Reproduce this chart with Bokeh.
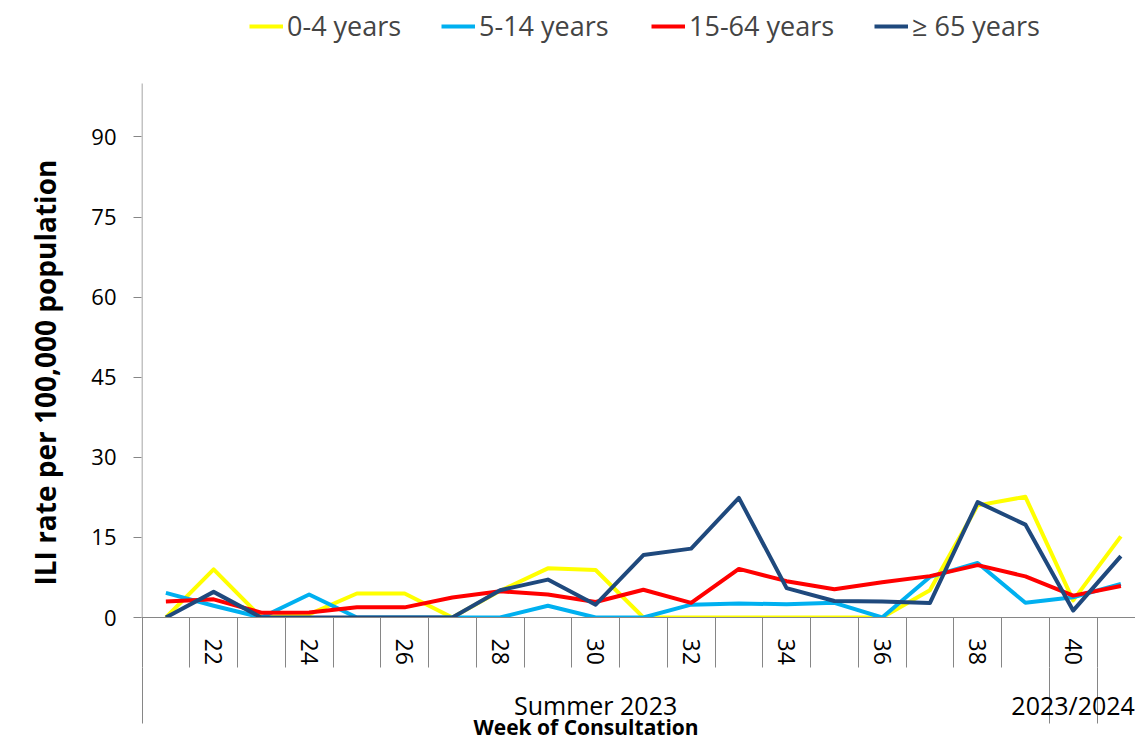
from bokeh.plotting import figure
from bokeh.models import Range1d, FixedTicker, LinearAxis, Legend, LegendItem, ColumnDataSource, Title
from bokeh.embed import file_html
from bokeh.resources import INLINE

# ---- data ----
weeks = list(range(21, 42))
age_0_4 = [0, 9.0, 0, 0.6, 4.5, 4.5, 0, 5.0, 9.2, 8.9, 0, 0, 0, 0, 0, 0, 5.1, 21.0, 22.6, 3.2, 15.2]
age_5_14 = [4.6, 2.2, 0, 4.3, 0, 0, 0, 0, 2.2, 0, 0, 2.4, 2.6, 2.5, 2.75, 0, 7.6, 10.2, 2.75, 3.8, 6.3]
age_15_64 = [3.0, 3.4, 0.9, 0.94, 1.9, 1.9, 3.75, 4.9, 4.3, 2.9, 5.2, 2.75, 9.1, 6.8, 5.3, 6.6, 7.75, 9.8, 7.7, 4.1, 5.9]
age_65 = [0, 4.8, 0, 0, 0, 0, 0, 5.1, 7.1, 2.4, 11.7, 12.9, 22.4, 5.5, 3.1, 3.0, 2.7, 21.6, 17.4, 1.3, 11.5]

series_labels = ["0-4 years", "5-14 years", "15-64 years", "\u2265 65 years"]
series_colors = ["#FFFF00", "#00B0F0", "#FF0000", "#1F497D"]

y_ticks = [0, 15, 30, 45, 60, 75, 90]
y_max = 100
y_title = "ILI rate per 100,000 population"
x_title = "Week of Consultation"
week_ticks = [22, 24, 26, 28, 30, 32, 34, 36, 38, 40]
group_labels = ["Summer 2023", "2023/2024"]
group_tick_pos = [30, 40]
group_bounds = [20.5, 39.5, 40.5]

GRAY = "#868686"
FONT = "Open Sans"

# layout geometry (pixels)
FRAME_LEFT, PX_PER_WEEK, X0 = 141, 47.75, 20.4895
ZERO_Y, PX_PER_UNIT = 617, 5.34

source = ColumnDataSource(dict(week=weeks, a=age_0_4, b=age_5_14, c=age_15_64, d=age_65))

p = figure(width=1135, height=742, output_backend="svg", toolbar_location=None,
           x_range=Range1d(X0, X0 + (1135 - FRAME_LEFT) / PX_PER_WEEK),
           y_range=Range1d(0, ZERO_Y / PX_PER_UNIT),
           min_border_left=FRAME_LEFT, min_border_right=0, min_border_top=0,
           min_border_bottom=742 - ZERO_Y)
p.outline_line_color = None
p.grid.visible = False
p.background_fill_color = "white"
p.border_fill_color = "white"

# y axis
ya = p.yaxis[0]
ya.ticker = FixedTicker(ticks=y_ticks)
ya.axis_line_color = None
ya.major_tick_line_color = GRAY
ya.major_tick_out = 8
ya.major_tick_in = 0
ya.minor_tick_line_color = None
ya.major_label_text_font = FONT
ya.major_label_text_font_size = "22px"
ya.major_label_text_color = "black"
ya.major_label_standoff = 17

# y title
p.add_layout(Title(text=y_title, align="left", offset=32, standoff=46, vertical_align="top",
                   text_font=FONT, text_font_size="28px", text_font_style="bold",
                   text_color="black"), "left")

# vertical axis line up to 100
p.segment(x0=[group_bounds[0]], y0=[0], x1=[group_bounds[0]], y1=[y_max], line_color=GRAY, line_width=1)

# x axis level 1 (weeks)
xa = p.xaxis[0]
xa.ticker = FixedTicker(ticks=week_ticks, minor_ticks=[w - 0.5 for w in weeks])
xa.axis_line_color = GRAY
xa.major_tick_line_color = None
xa.major_tick_out = 0
xa.major_tick_in = 0
xa.minor_tick_line_color = GRAY
xa.minor_tick_out = 50
xa.minor_tick_in = 0
xa.major_label_orientation = "vertical"
xa.major_label_text_font = FONT
xa.major_label_text_font_size = "23px"
xa.major_label_text_color = "black"
xa.major_label_standoff = -29

# x axis level 2 (season groups)
xa2 = LinearAxis(ticker=FixedTicker(ticks=group_tick_pos, minor_ticks=group_bounds),
                 major_label_overrides={group_tick_pos[0]: group_labels[0], group_tick_pos[1]: group_labels[1]})
xa2.axis_line_color = None
xa2.major_tick_line_color = None
xa2.major_tick_out = 0
xa2.major_tick_in = 0
xa2.minor_tick_line_color = GRAY
xa2.minor_tick_out = 56
xa2.minor_tick_in = 0
xa2.major_label_text_font = FONT
xa2.major_label_text_font_size = "25px"
xa2.major_label_text_color = "black"
xa2.major_label_standoff = -36
p.add_layout(xa2, "below")

# x title
p.add_layout(Title(text=x_title, align="left", offset=332, standoff=-24, vertical_align="top",
                   text_font=FONT, text_font_size="21px", text_font_style="bold",
                   text_color="black"), "below")

renderers = []
for col, color in zip(["a", "b", "c", "d"], series_colors):
    r = p.line("week", col, source=source, line_color=color, line_width=4, line_join="round")
    renderers.append(r)

legend_x = [108, 300, 510, 733]
for r, lab, lx in zip(renderers, series_labels, legend_x):
    lg = Legend(items=[LegendItem(label=lab, renderers=[r])], location=(lx, 573),
                orientation="horizontal", border_line_color=None, background_fill_alpha=0,
                padding=0, margin=0, glyph_width=34, glyph_height=20, label_standoff=4,
                label_text_font=FONT, label_text_font_size="27px", label_height=20, spacing=0)
    p.add_layout(lg)

open("out.html", "w").write(file_html(p, INLINE))
